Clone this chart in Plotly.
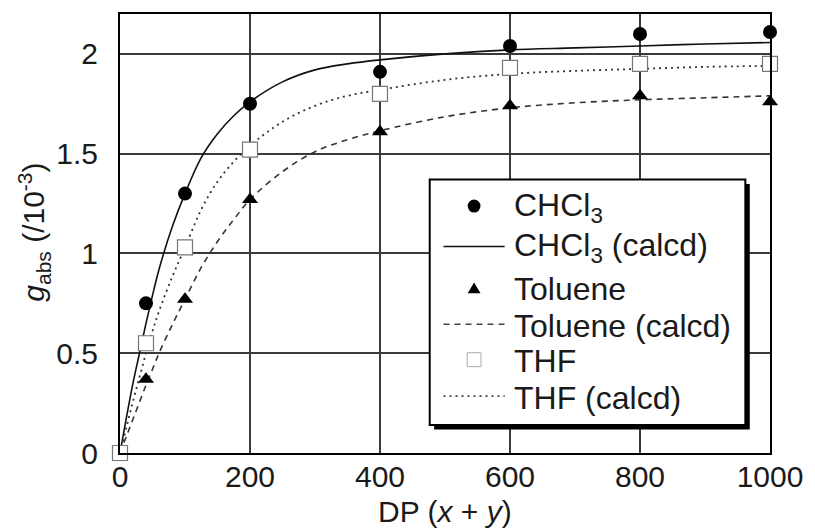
import plotly.graph_objects as go

# Measured g_abs (x 10^-3) versus degree of polymerisation
dp = [0, 40, 100, 200, 400, 600, 800, 1000]
g_chcl3 = [None, 0.75, 1.30, 1.75, 1.91, 2.04, 2.10, 2.11]
g_toluene = [None, 0.37, 0.77, 1.27, 1.61, 1.74, 1.79, 1.76]
g_thf = [0.0, 0.55, 1.03, 1.52, 1.80, 1.93, 1.95, 1.95]

# Calculated curves
dp_calc = [0, 10, 20, 30, 40, 50, 60, 80, 100, 125, 150, 175, 200, 250,
           300, 350, 400, 500, 600, 700, 800, 900, 1000]
calc_chcl3 = [0, 0.18, 0.35, 0.50, 0.65, 0.79, 0.92, 1.13, 1.30, 1.48, 1.60,
              1.69, 1.76, 1.86, 1.92, 1.95, 1.97, 2.00, 2.02, 2.03, 2.04,
              2.05, 2.057]
calc_toluene = [0, 0.085, 0.17, 0.255, 0.34, 0.42, 0.50, 0.64, 0.77, 0.93,
                1.06, 1.17, 1.27, 1.41, 1.51, 1.57, 1.615, 1.685, 1.73,
                1.755, 1.77, 1.78, 1.79]
calc_thf = [0, 0.13, 0.26, 0.38, 0.50, 0.61, 0.71, 0.88, 1.03, 1.22, 1.36,
            1.46, 1.54, 1.66, 1.74, 1.79, 1.82, 1.87, 1.90, 1.915, 1.925,
            1.935, 1.94]

x_ticks = [0, 200, 400, 600, 800, 1000]
y_ticks = [0, 0.5, 1, 1.5, 2]
y_ticktext = ["0", "0.5", "1", "1.5", "2"]

legend_labels = ["CHCl<sub>3</sub>", "CHCl<sub>3</sub> (calcd)", "Toluene",
                 "Toluene (calcd)", "THF", "THF (calcd)"]

FONT = "Liberation Sans, Arial, sans-serif"
FS = 30
INK = "#1a1a1a"

W, H = 815, 532
ML, MR, MT, MB = 120, 36, 13, 79
PW, PH = W - ML - MR, H - MT - MB


def px(x):
    """Horizontal pixel position -> paper coordinate."""
    return (x - ML) / PW


def py(y):
    """Vertical pixel position (from top) -> paper coordinate."""
    return (H - MB - y) / PH


fig = go.Figure()

fig.add_trace(go.Scatter(
    x=dp_calc, y=calc_chcl3, mode="lines", name=legend_labels[1],
    line=dict(color="#111", width=1.6, shape="spline")))
fig.add_trace(go.Scatter(
    x=dp_calc, y=calc_toluene, mode="lines", name=legend_labels[3],
    line=dict(color="#333", width=1.6, dash="6px,5px", shape="spline")))
fig.add_trace(go.Scatter(
    x=dp_calc, y=calc_thf, mode="lines", name=legend_labels[5],
    line=dict(color="#333", width=1.8, dash="2px,4px", shape="spline")))
fig.add_trace(go.Scatter(
    x=dp, y=g_chcl3, mode="markers", name=legend_labels[0],
    marker=dict(symbol="circle", size=14, color="black"), cliponaxis=False))
fig.add_trace(go.Scatter(
    x=dp, y=g_toluene, mode="markers", name=legend_labels[2],
    marker=dict(symbol="triangle-up", size=14, color="black"), cliponaxis=False))
fig.add_trace(go.Scatter(
    x=dp, y=g_thf, mode="markers", name=legend_labels[4],
    marker=dict(symbol="square", size=15, color="white",
                line=dict(color="#777", width=1.2)), cliponaxis=False))

# ---- legend box (drawn by hand so the row spacing can be controlled) ----
box_l, box_r, box_t, box_b = 434, 754, 179, 425
shadow = 4.5
fig.add_shape(type="rect", xref="paper", yref="paper", layer="above",
              x0=px(box_l + shadow), x1=px(box_r + shadow),
              y0=py(box_b + shadow), y1=py(box_t + shadow),
              fillcolor="black", line=dict(width=0))
fig.add_shape(type="rect", xref="paper", yref="paper", layer="above",
              x0=px(box_l), x1=px(box_r), y0=py(box_b), y1=py(box_t),
              fillcolor="white", line=dict(color="black", width=2))

row_y = [205.5, 246, 287.5, 324, 359.5, 396]
sym_x = 479
line_x0, line_x1 = 448, 510
text_x = 517

# circle
r = 6.5
fig.add_shape(type="circle", xref="paper", yref="paper", layer="above",
              x0=px(sym_x - r), x1=px(sym_x + r),
              y0=py(row_y[0] + r), y1=py(row_y[0] - r),
              fillcolor="black", line=dict(color="black", width=0))
# solid line
fig.add_shape(type="line", xref="paper", yref="paper", layer="above",
              x0=px(line_x0), x1=px(line_x1), y0=py(row_y[1]), y1=py(row_y[1]),
              line=dict(color="#111", width=1.6))
# triangle
tw, th = 6.5, 11
ty = row_y[2]
fig.add_shape(type="path", xref="paper", yref="paper", layer="above",
              path=(f"M {px(sym_x - tw)},{py(ty + th / 2)} "
                    f"L {px(sym_x + tw)},{py(ty + th / 2)} "
                    f"L {px(sym_x)},{py(ty - th / 2)} Z"),
              fillcolor="black", line=dict(color="black", width=0))
# dashed line
fig.add_shape(type="line", xref="paper", yref="paper", layer="above",
              x0=px(line_x0), x1=px(line_x1), y0=py(row_y[3]), y1=py(row_y[3]),
              line=dict(color="#444", width=1.6, dash="6px,5px"))
# open square
s = 7
fig.add_shape(type="rect", xref="paper", yref="paper", layer="above",
              x0=px(sym_x - s), x1=px(sym_x + s),
              y0=py(row_y[4] + s), y1=py(row_y[4] - s),
              fillcolor="white", line=dict(color="#aaa", width=1))
# dotted line
fig.add_shape(type="line", xref="paper", yref="paper", layer="above",
              x0=px(line_x0), x1=px(line_x1), y0=py(row_y[5]), y1=py(row_y[5]),
              line=dict(color="#444", width=1.8, dash="2px,4px"))

for label, ry in zip(legend_labels, row_y):
    fig.add_annotation(text=label, xref="paper", yref="paper",
                       x=px(text_x), y=py(ry + 1.5), xanchor="left", yanchor="middle",
                       showarrow=False,
                       font=dict(family=FONT, size=32, color=INK))

axis_common = dict(showline=True, linecolor="black", linewidth=2, mirror=True,
                   showgrid=True, gridcolor="#3a3a3a", gridwidth=2,
                   zeroline=False, ticks="", ticklabeloverflow="allow",
                   tickfont=dict(family=FONT, size=FS, color=INK))

fig.update_xaxes(range=[0, 1000], tickvals=x_ticks, ticklabelstandoff=-4,
                 **axis_common)
fig.update_yaxes(range=[0, 2.2], tickvals=y_ticks, ticktext=y_ticktext,
                 ticklabelstandoff=14, **axis_common)

fig.add_annotation(text="DP (<i>x</i> + <i>y</i>)", xref="paper", yref="paper",
                   x=px(450), y=py(512), xanchor="center", yanchor="middle",
                   showarrow=False, font=dict(family=FONT, size=30, color=INK))
fig.add_annotation(text="<i>g</i><sub>abs</sub> (/10<sup>-3</sup>)", xref="paper",
                   yref="paper", x=px(32), y=py(232), textangle=-90,
                   xanchor="center", yanchor="middle", showarrow=False,
                   font=dict(family=FONT, size=FS, color=INK))

fig.update_layout(
    width=W, height=H,
    margin=dict(l=ML, r=MR, t=MT, b=MB),
    paper_bgcolor="white", plot_bgcolor="white",
    showlegend=False,
)

fig.write_html("out.html")
